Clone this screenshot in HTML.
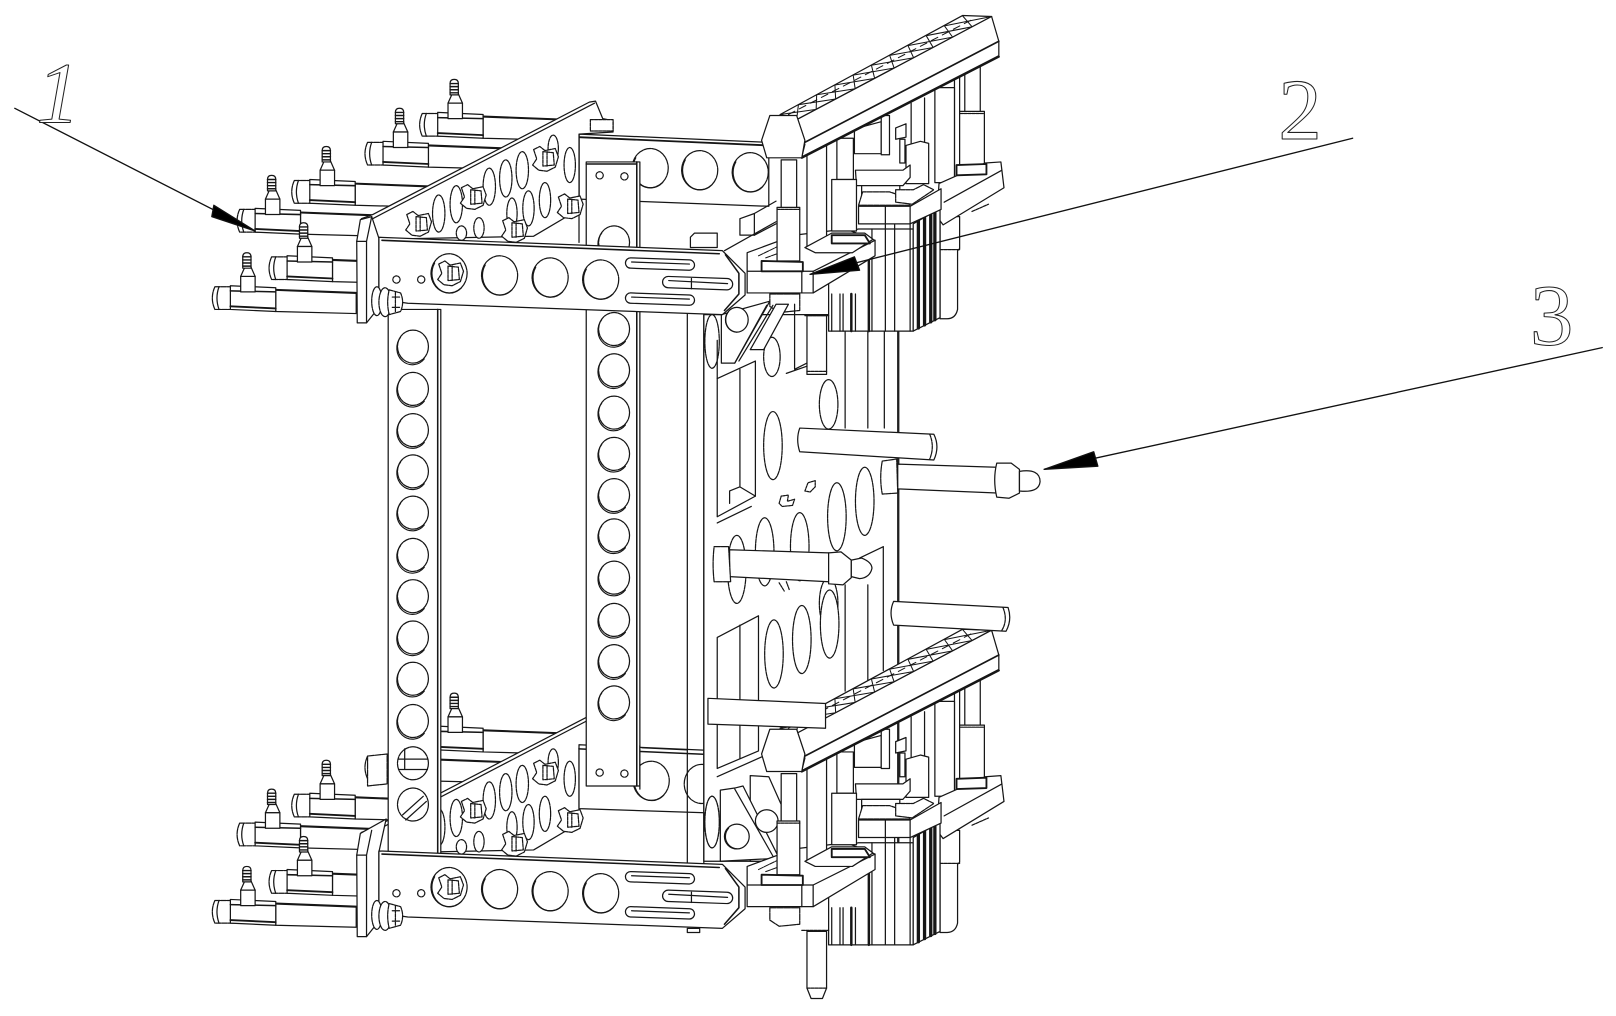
<!DOCTYPE html>
<html><head><meta charset="utf-8"><style>html,body{margin:0;padding:0;background:#fff;width:1616px;height:1016px;overflow:hidden}svg{display:block}</style></head><body>
<svg xmlns="http://www.w3.org/2000/svg" width="1616" height="1016" viewBox="0 0 1566 985" fill="#fff" stroke="#161616" stroke-width="1.2" stroke-linejoin="round" stroke-linecap="round">
<defs>
<g id="h"><ellipse rx="15" ry="16" stroke-dasharray="6 1"/><path d="M-12,-9 A15 16 0 0 0 11,12" fill="none" stroke-width="1.100"/></g>
<g id="H"><ellipse rx="17.500" ry="19" stroke-dasharray="7 1"/><path d="M-14,-10 A17 19 0 0 0 12,14" fill="none"/></g>
<g id="f">
<path d="M62,4 L140,7 L140,27 L62,25Z"/><path d="M62,4 L140,7" stroke-width="2" fill="none"/>
<path d="M3,1 L22,1 L22,23 L3,23 Q-2,12 3,1Z" stroke-dasharray="5 1"/><path d="M7,1 Q3,12 7,23" fill="none"/>
<path d="M18,0 L62,2 L62,25 L18,23Z"/><path d="M18,5 L62,6" fill="none" stroke-width="1.500"/><path d="M18,20 L62,22" fill="none" stroke-width="1.800"/>
<path d="M28,-9 L32,-18 L38,-18 L42,-9Z"/><path d="M30,-17 V-28 Q30,-32 34,-32 Q38,-32 38,-28 V-17Z"/><path d="M30,-28 H38 M30,-25 H38 M30,-22 H38 M30,-19 H38" fill="none" stroke-width="1.400"/><rect x="28" y="-9" width="14" height="15"/>
</g>
<g id="n"><path d="M-11,-9 L-5,-12 L0,-8 L10,-10 L13,-2 L10,8 L2,12 L-6,11 L-12,6 L-8,0Z" stroke-dasharray="4 1"/><path d="M-2,-7 L8,-6 L9,6 L-2,7Z M2,-7 V7" fill="none" stroke-dasharray="3 1"/></g>
<g id="b"><ellipse cx="-9" cy="-1" rx="5" ry="14" stroke-dasharray="4 1"/><ellipse cx="-1" cy="0" rx="6" ry="14" stroke-dasharray="4 1"/><path d="M3,-12 L14,-9 Q18,0 14,9 L3,12 Q0,0 3,-12Z" stroke-dasharray="4 1"/><path d="M6,-5 H14 M6,5 H14 M9,-10 V10" fill="none" stroke-dasharray="3 1"/></g>
<g id="diag">
<path d="M350,212 L361,208 L571,99 L577,98 L584,115 L594,117 L594,128 L561,130 L561,203 L517,229 L367,232Z"/>
<path d="M361,212 L576,100" fill="none"/>
<g stroke-dasharray="3 1">
<ellipse cx="425" cy="207" rx="6" ry="18"/><ellipse cx="442" cy="198" rx="6" ry="18"/><ellipse cx="474" cy="181" rx="6" ry="18"/><ellipse cx="490" cy="173" rx="6" ry="18"/><ellipse cx="506" cy="165" rx="6" ry="18"/><ellipse cx="536" cy="144" rx="5" ry="13"/><ellipse cx="552" cy="160" rx="5.500" ry="17"/><ellipse cx="528" cy="194" rx="5.500" ry="17"/><ellipse cx="512" cy="202" rx="5.500" ry="17"/><ellipse cx="496" cy="207" rx="5" ry="15"/><ellipse cx="464" cy="221" rx="5" ry="10"/><ellipse cx="447" cy="226" rx="5" ry="7"/>
</g>
<use href="#n" x="405" y="217"/><use href="#n" x="458" y="191"/><use href="#n" x="528" y="154"/><use href="#n" x="498" y="223"/><use href="#n" x="552" y="200"/>
<path d="M572,116 H594 V127 H572Z" stroke-dasharray="3 1"/>
</g>
<g id="R">
<path d="M883,100 V140 M896,95 V140 M925,78 V176 M930,75 V160" fill="none"/>
<rect x="935" y="62" width="15" height="48"/><rect x="930" y="108" width="24" height="52"/><path d="M930,110 H954" stroke-dasharray="3 1" fill="none"/>
<rect x="906" y="85" width="19" height="92"/>
<path d="M828,125 L854,118 V149 H828Z"/><path d="M854,112 H862 V150 H854Z"/>
<path d="M868,124 L878,120 V133 L868,135Z"/><path d="M872,135 H877 V158 H872Z"/>
<path d="M878,141 L892,137 L900,139 V178 H878Z"/>
<path d="M829,165 H875 L882,160 L882,172 L875,180 H830Z"/>
<path d="M835,180 H872 V192 H835Z"/>
<!-- right rod -->
<path d="M911,210 H930 V241 L928,243 V300 Q926,309 918,309 L911,309Z"/><path d="M911,242 H930" fill="none" stroke-dasharray="3 1"/>
<!-- right bracket -->
<path d="M910,178 L955,158 L970,157 L973,182 L914,218 L908,210Z"/><path d="M915,196 L971,165" fill="none"/>
<path d="M927,160 L956,159 V169 L927,170Z" stroke-width="1.800"/>
<path d="M942,205 L958,198" fill="none" stroke-dasharray="3 1"/>
<!-- cylinder -->
<path d="M803,228 L832,222 H885 V321 H803Z"/>
<path d="M806,285 V321 M814,285 V321 M817,285 V321 M829,285 V321 M845,222 V321 M858,217 V321 M867,217 V321 M882,217 V321" fill="none"/>
<path d="M825,285 V321 M842,250 V321" fill="none" stroke-width="2.400"/>
<path d="M885,217 L911,202 V308 L885,321Z"/>
<path d="M890,214 V318 M896,211 V315 M902,208 V312 M906,206 V310" fill="none" stroke-width="3.200"/>
<path d="M832,200 H882 L912,183 V203 L882,217 H832Z"/><path d="M858,200 V217 M882,200 V217" fill="none"/>
<path d="M832,199 L836,186 L862,186 L880,192 L882,199Z" stroke-dasharray="5 1"/>
<path d="M868,184 H885 L895,179 L905,184 L884,198 L868,196Z" stroke-dasharray="4 1"/>
<!-- front plate -->
<path d="M724,245 L770,228 L820,222 L848,233 L848,248 L788,284 L724,284Z"/>
<path d="M724,263 L788,263 L848,233" fill="none"/><path d="M777,263 V284 M788,263 V284" fill="none"/>
<path d="M735,248 L766,233 M742,250 L775,238" fill="none" stroke-width="1" stroke-dasharray="5 1"/>
<path d="M782,145 L801,138 V241 H782Z"/><path d="M811,134 H827 V174 H811Z"/><rect x="806" y="174" width="24" height="50"/>
<path d="M806,226 H838 L846,232 L826,245 L790,245 L780,240Z"/><path d="M806,228 H838 L843,236 H806Z" stroke-width="1.800"/>
<path d="M757,155 H772 V202 H757Z"/><rect x="753" y="201" width="22" height="52"/><path d="M753,203 H775" stroke-dasharray="3 1" fill="none"/>
<path d="M738,253 L778,254 L778,263 L738,263Z" stroke-width="1.800"/>
<path d="M746,285 H775 V301 L755,303 L746,297Z" stroke-dasharray="6 1"/>
<!-- rail -->
<path d="M756,111 L933,15 L961,16 L772,116Z"/>
<path d="M756,111 L790.900,106 L791.400,91.900 L828.700,86 L826.800,72.800 L866.500,66 L862.200,53.700 L904.300,46 L897.600,34.600 L942.100,26 L933,15.500" fill="none" stroke-width="1"/>
<path d="M772,116 L773.700,101.500 L809.800,96 L809.100,82.400 L847.600,76 L844.500,63.300 L885.400,56 L879.900,44.200 L923.200,36 L915.300,25.100 L961,16" fill="none" stroke-width="1"/>
<path d="M764,111 L944,18" fill="none" stroke-width="1" stroke-dasharray="7 5"/>
<path d="M772,116 L961,16 L968,40 L968,54 L777,152 L780,140 Z"/>
<path d="M778,139 L968,40" fill="none" stroke-width="1.600"/><path d="M777,153 L968,55" fill="none" stroke-width="2"/>
<path d="M746,112 L772,112 L780,136 L777,153 L743,153 L738,136Z"/>
</g>
</defs>

<!-- Lower rear: fittings and diagonal plate -->
<use href="#f" x="406" y="704"/><use href="#f" x="353" y="732"/><use href="#f" x="282" y="769"/><use href="#f" x="229" y="797"/>
<use href="#diag" y="595"/>

<!-- Rear plate upper -->
<path d="M561,130 L745,138 V200 L561,193Z"/><path d="M561,133 L745,141" fill="none" stroke-width="1.800"/>
<use href="#H" x="630" y="163"/><use href="#H" x="678" y="165"/><use href="#H" x="727" y="167"/>
<path d="M561,130 V235" fill="none"/>
<!-- Rear plate lower -->
<path d="M561,722 L745,730 V790 L561,784Z"/>
<path d="M561,726 L745,734" fill="none" stroke-width="1.500"/>
<use href="#H" x="631" y="757"/><ellipse cx="680" cy="760" rx="17" ry="19" stroke-dasharray="7 1"/>

<!-- Right plate -->
<rect x="682" y="305" width="189" height="530"/>
<g stroke-dasharray="4 1">
<ellipse cx="749" cy="432" rx="9" ry="33"/><ellipse cx="803" cy="392" rx="9" ry="24"/><ellipse cx="748" cy="346" rx="8" ry="19"/>
<ellipse cx="775" cy="530" rx="9" ry="33"/><ellipse cx="811" cy="501" rx="9" ry="33"/><ellipse cx="838" cy="486" rx="9" ry="33"/>
<ellipse cx="741" cy="535" rx="9" ry="33"/><ellipse cx="714" cy="552" rx="9" ry="33"/><ellipse cx="803" cy="585" rx="9" ry="25"/><ellipse cx="775" cy="600" rx="8" ry="12" opacity="0"/>
<ellipse cx="750" cy="634" rx="9" ry="33"/><ellipse cx="777" cy="620" rx="9" ry="33"/><ellipse cx="804" cy="605" rx="9" ry="33"/>
<ellipse cx="690" cy="797" rx="7" ry="25"/><ellipse cx="690" cy="331" rx="7" ry="26"/>
</g>
<g fill="none"><path d="M695,367 L732,350 V481 L695,501Z"/><path d="M717,358 V472 M707,488 V476 L717,472 M717,472 L732,481 M695,507 L728,491"/>
<path d="M695,618 L735,597 V728 L695,745Z"/><path d="M717,606 V735 M695,753 L740,733"/>
<path d="M819,320 V415 M841,320 V415 M857,320 V415 M870,320 V835 M819,567 V670 M841,567 V660 M856,530 V650 M833,541 L856,530"/>
</g>
<path d="M755,488 L757,481 L764,480 L763,486 L770,484 L768,490 L758,491Z M780,476 L783,468 L790,466 L790,472 L785,477Z" fill="none" stroke-dasharray="2 1"/>
<path d="M755,565 L760,573 M762,564 L765,572" fill="none" stroke-dasharray="2 1"/>

<!-- Upper right assembly -->
<use href="#R"/>
<path d="M782,306 H801 V363 H782Z"/><path d="M780,306 H803 M782,360 H801" fill="none" stroke-dasharray="3 1"/>
<path d="M717,212 L731,207 V228 H717Z"/><path d="M731,207 L752,195 M731,228 L752,217 M702,243 L752,215" fill="none"/>

<!-- Gussets -->
<path d="M699,305 L746,292 L712,352 L699,352Z"/><path d="M743,296 L712,352 M749,296 L716,350" fill="none"/>
<path d="M764,295 L740,339 H727 L752,295Z"/>
<ellipse cx="714" cy="310" rx="11" ry="12"/><path d="M706,302 A11 12 0 0 0 714,322" fill="none"/>
<path d="M770,295 V358 M770,358 L782,352 M762,362 L782,355" fill="none"/>
<path d="M727,752 L745,753 L757,780 V835 L727,835Z"/>
<path d="M698,766 L712,764 L720,762 L755,832 L698,835Z"/><path d="M712,765 L749,830" fill="none"/>
<ellipse cx="714" cy="811" rx="12" ry="12"/><path d="M706,803 A12 12 0 0 0 714,823" fill="none"/><ellipse cx="743" cy="796" rx="11" ry="11"/>
<ellipse cx="690" cy="797" rx="7" ry="25" stroke-dasharray="4 1"/>

<!-- Lower right assembly -->
<use href="#R" y="595"/>
<path d="M782,903 H801 V958 L797,968 H786 L782,958Z"/><path d="M777,902 H803 M782,958 H801" fill="none" stroke-dasharray="3 1"/>

<!-- Pins -->
<path d="M775,415 L905,421 Q911,433 905,446 L775,438 Q771,426 775,415Z"/><path d="M901,421 Q906,433 901,445" fill="none" stroke-dasharray="3 1"/>
<path d="M870,450 L966,453 V478 L870,474Z"/><path d="M855,447 L869,445 L870,478 L855,479 Q852,463 855,447Z" stroke-dasharray="5 1"/>
<path d="M966,449 L980,449 L988,455 L988,478 L978,483 L966,482 Q962,465 966,449Z"/><path d="M988,457 Q1008,454 1008,467 Q1007,478 988,476Z"/>
<path d="M707,533 L803,536 V564 L707,559Z"/><path d="M692,530 L706,530 L708,564 L692,564 Q690,547 692,530Z" stroke-dasharray="6 1"/>
<path d="M803,536 L815,535 L825,543 V560 L817,567 L803,566Z"/><path d="M825,543 L835,541 Q845,545 845,551 Q843,560 833,561 L825,559Z"/>
<path d="M866,583 L977,589 Q981,601 975,612 L866,606 Q861,594 866,583Z"/><path d="M972,589 Q977,601 971,611" fill="none" stroke-dasharray="3 1"/>
<path d="M686,677 L800,682 V706 L686,702Z"/>

<!-- Column 2 -->
<rect x="568" y="157" width="52" height="605"/><path d="M617,157 V762 M568,159 H617" fill="none" stroke-width="1.500"/>
<use href="#h" x="595" y="235"/><use href="#h" x="595" y="319"/><use href="#h" x="595" y="359"/><use href="#h" x="595" y="400"/><use href="#h" x="595" y="440"/><use href="#h" x="595" y="480"/><use href="#h" x="595" y="519"/><use href="#h" x="595" y="560"/><use href="#h" x="595" y="601"/><use href="#h" x="595" y="641"/><use href="#h" x="595" y="681"/>
<circle cx="581" cy="170" r="3.500" stroke-dasharray="2 1"/><circle cx="605" cy="171" r="3.500" stroke-dasharray="2 1"/><circle cx="581" cy="749" r="3.500" stroke-dasharray="2 1"/><circle cx="605" cy="750" r="3.500" stroke-dasharray="2 1"/>
<path d="M622,725 L666,727 M620,723 V765" fill="none"/>

<!-- Column verticals -->
<path d="M666,300 V838 M682,300 V838 M695,330 V367" fill="none"/>

<!-- Column 1 -->
<rect x="376" y="300" width="51" height="530"/><path d="M424,300 V830" fill="none" stroke-width="1.500"/>
<use href="#h" x="400" y="336"/><use href="#h" x="400" y="377"/><use href="#h" x="400" y="417"/><use href="#h" x="400" y="457"/><use href="#h" x="400" y="497"/><use href="#h" x="400" y="538"/><use href="#h" x="400" y="578"/><use href="#h" x="400" y="618"/><use href="#h" x="400" y="658"/><use href="#h" x="400" y="699"/>
<ellipse cx="400" cy="740" rx="15" ry="16" stroke-dasharray="6 1"/><path d="M386,736 H414 M386,746 H414 M392,726 V746" fill="none"/>
<ellipse cx="400" cy="780" rx="15" ry="16" stroke-dasharray="6 1"/><path d="M390,790 L410,772 M393,795 L413,777" fill="none"/>
<path d="M356,733 L375,731 V760 L356,762Z" stroke-dasharray="6 1"/>

<!-- Upper fittings, diagonal plate -->
<use href="#f" x="406" y="109"/><use href="#f" x="353" y="137"/><use href="#f" x="282" y="174"/><use href="#f" x="229" y="202"/>
<use href="#diag"/>
<use href="#f" x="260" y="248"/><use href="#f" x="205" y="277"/>
<!-- Lower front fittings -->
<use href="#f" x="260" y="843"/><use href="#f" x="205" y="872"/>

<!-- Flanges -->
<path d="M345.500,234 L349,213 L360,210 L367,231 V298 L355,313 H346Z"/><path d="M345.500,234 H355 V313 M360,210 L355,234" fill="none"/>
<path d="M345.500,829 L349,808 L374,794 L367,826 V893 L355,908 H346Z"/><path d="M345.500,829 H355 V908 M360,805 L355,829" fill="none"/>

<!-- Box on upper bar -->
<path d="M669,230 L673,226 H695 V240 H669Z"/>

<!-- Upper bar -->
<path d="M367,230 L700,243 L722,265 V286 L700,305 L395,294 L367,290Z"/>
<path d="M370,233 L697,246 M703,247 L716,265 V285 L702,301" fill="none" stroke-width="1.500"/>
<use href="#H" x="435" y="265"/><use href="#H" x="484" y="267"/><use href="#H" x="533" y="269"/><use href="#H" x="582" y="271"/>
<use href="#n" x="436" y="265"/>
<circle cx="384" cy="271" r="3.500" stroke-dasharray="2 1"/><circle cx="408" cy="271" r="3.500" stroke-dasharray="2 1"/>
<g><rect x="606" y="251" width="67" height="10" rx="5" transform="rotate(2 640 256)"/><path d="M612,254 L668,256" fill="none"/>
<rect x="642" y="269" width="68" height="11" rx="5.500" transform="rotate(2 676 274)"/><path d="M648,272 L705,275 M670,270 V280" fill="none"/>
<rect x="606" y="285" width="67" height="10" rx="5" transform="rotate(2 640 290)"/><path d="M612,288 L668,290" fill="none"/></g>

<!-- Lower bar -->
<path d="M367,825 L700,838 L722,860 V881 L700,900 L395,889 L367,885Z"/>
<path d="M370,828 L697,841 M703,842 L716,860 V880 L702,896" fill="none" stroke-width="1.500"/>
<use href="#H" x="435" y="860"/><use href="#H" x="484" y="862"/><use href="#H" x="533" y="864"/><use href="#H" x="582" y="866"/>
<use href="#n" x="436" y="860"/>
<circle cx="384" cy="866" r="3.500" stroke-dasharray="2 1"/><circle cx="408" cy="866" r="3.500" stroke-dasharray="2 1"/>
<g><rect x="606" y="846" width="67" height="10" rx="5" transform="rotate(2 640 851)"/><path d="M612,849 L668,851" fill="none"/>
<rect x="642" y="864" width="68" height="11" rx="5.500" transform="rotate(2 676 869)"/><path d="M648,867 L705,870 M670,865 V875" fill="none"/>
<rect x="606" y="880" width="67" height="10" rx="5" transform="rotate(2 640 885)"/><path d="M612,883 L668,885" fill="none"/></g>
<rect x="666" y="900" width="12" height="4"/>

<!-- Side nuts -->
<use href="#b" x="374" y="293"/><use href="#b" x="374" y="888"/>

<!-- Leaders -->
<g stroke="#111" stroke-width="1.300" fill="#000">
<path d="M14,105 L247,224" fill="none"/><path d="M207,199 L205,210 L247,224Z"/>
<path d="M1311,134 L785,266" fill="none"/><path d="M828,249 L833,262 L785,266Z"/>
<path d="M1553,337 L1012,455" fill="none"/><path d="M1060,438 L1064,452 L1012,455Z"/>
</g>
<g font-family="'Liberation Serif',serif" font-size="84" fill="#fff" stroke="#222" stroke-width="1">
<text x="35" y="119" font-style="italic">1</text>
<text x="1239" y="135">2</text>
<text x="1483" y="334">3</text>
</g>
</svg>
</body></html>
